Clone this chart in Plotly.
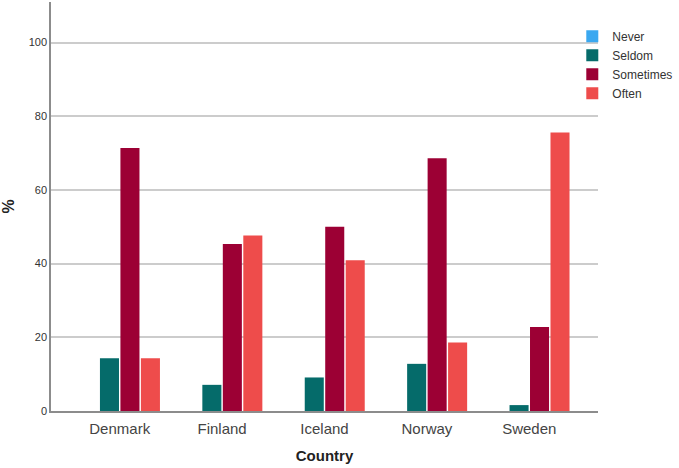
import plotly.graph_objects as go

countries = ["Denmark", "Finland", "Iceland", "Norway", "Sweden"]
never = [0, 0, 0, 0, 0]
seldom = [14.3, 7.1, 9.1, 12.8, 1.6]
sometimes = [71.4, 45.3, 50.0, 68.6, 22.8]
often = [14.3, 47.6, 40.9, 18.6, 75.6]
y_ticks = [0, 20, 40, 60, 80, 100]

series = [
    ("Never", never, "#3AA8F0"),
    ("Seldom", seldom, "#056B6A"),
    ("Sometimes", sometimes, "#9C0034"),
    ("Often", often, "#EE4C4B"),
]

fig = go.Figure()
for name, vals, col in series:
    fig.add_trace(go.Bar(
        x=countries, y=vals, name=name,
        marker=dict(color=col, line=dict(width=0)),
    ))

font_family = "Arial, Liberation Sans, sans-serif"
fig.update_layout(
    width=679, height=468,
    margin=dict(l=51, r=81, t=2, b=57, autoexpand=False),
    paper_bgcolor="white", plot_bgcolor="white",
    barmode="group", bargap=0.2, bargroupgap=0.07,
    font=dict(family=font_family, color="#333333"),
    showlegend=True,
    legend=dict(
        x=0.953, xanchor="left", y=0.952, yanchor="top",
        font=dict(size=12, color="#333333"),
        bgcolor="rgba(0,0,0,0)", borderwidth=0,
        itemwidth=30, traceorder="normal",
    ),
    xaxis=dict(
        range=[-0.671, 4.671],
        showline=True, linecolor="#8c8c8c", linewidth=1.5,
        showgrid=False, ticks="", ticklabelstandoff=3,
        tickfont=dict(size=15, color="#444444"),
        title=dict(text="<b>Country</b>", font=dict(size=15, color="#222222"), standoff=15),
    ),
    yaxis=dict(
        range=[0, 111],
        tickvals=y_ticks,
        showline=True, linecolor="#8c8c8c", linewidth=1.5,
        showgrid=True, gridcolor="#cccccc", gridwidth=1.5,
        zeroline=False, ticks="",
        tickfont=dict(size=11, color="#333333"),
        title=dict(text="<b>%</b>", font=dict(size=16, color="#222222"), standoff=14),
    ),
)

fig.write_html("out.html")
